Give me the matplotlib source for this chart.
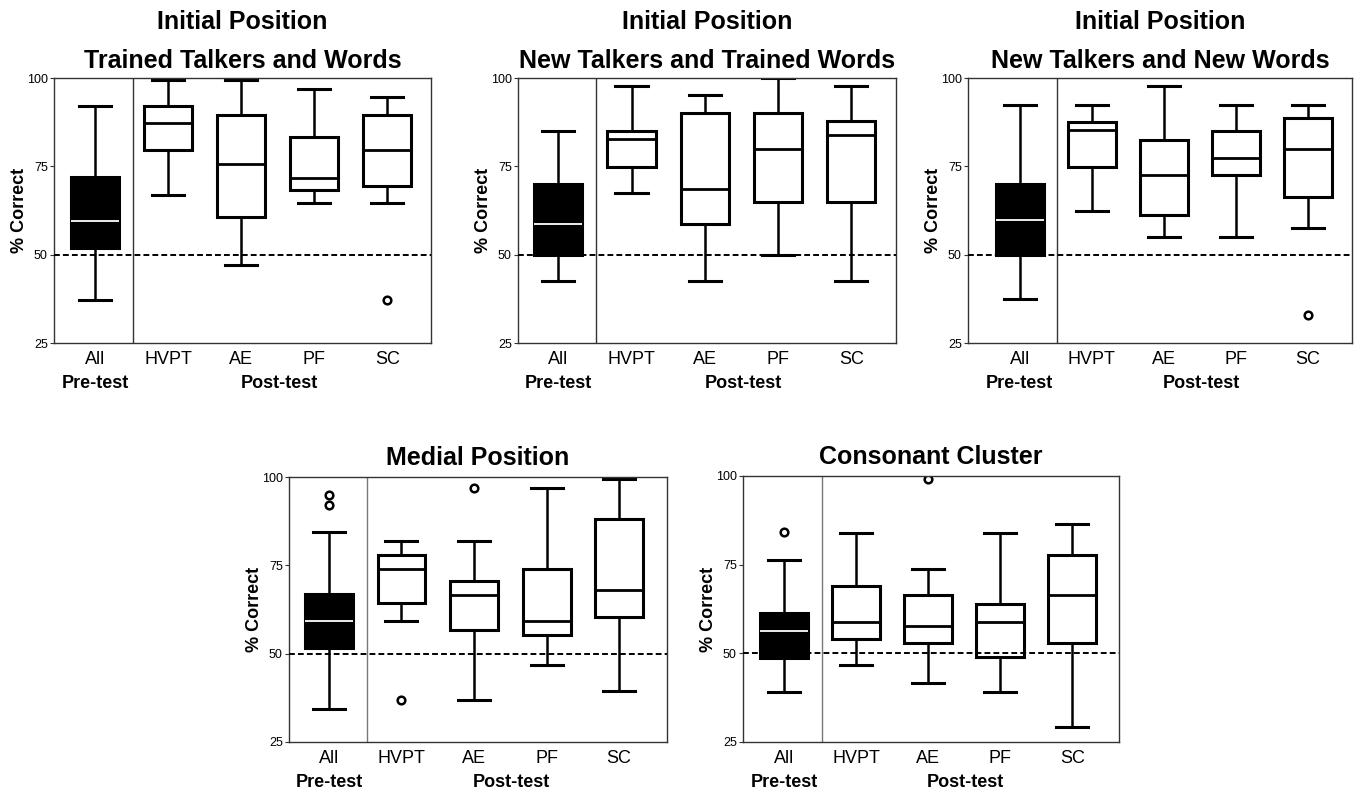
import matplotlib
matplotlib.use("Agg")
import matplotlib.pyplot as plt

plt.rcParams['font.family'] = ['Liberation Sans', 'DejaVu Sans']

groups = ["All", "HVPT", "AE", "PF", "SC"]

titles = ["Initial Position\nTrained Talkers and Words",
          "Initial Position\nNew Talkers and Trained Words",
          "Initial Position\nNew Talkers and New Words",
          "Medial Position",
          "Consonant Cluster"]

# each row: low whisker, Q1, median, Q3, high whisker (All, HVPT, AE, PF, SC)
trained_talkers_words = [[37.3, 52.0, 59.4, 72.0, 92.1],
                         [66.9, 79.5, 87.3, 92.1, 99.3],
                         [47.2, 60.7, 75.6, 89.5, 99.3],
                         [64.5, 68.2, 71.8, 83.3, 96.9],
                         [64.5, 69.4, 79.5, 89.5, 94.5]]
new_talkers_trained_words = [[42.6, 50.0, 58.7, 70.1, 85.1],
                             [67.5, 74.9, 82.8, 85.1, 97.6],
                             [42.6, 58.7, 68.7, 90.2, 95.1],
                             [50.0, 65.0, 80.0, 90.2, 100.0],
                             [42.6, 65.0, 84.0, 87.7, 97.6]]
new_talkers_new_words = [[37.5, 50.0, 59.8, 70.0, 92.5],
                         [62.3, 74.9, 85.2, 87.6, 92.5],
                         [54.9, 61.2, 72.5, 82.5, 97.6],
                         [54.9, 72.5, 77.4, 85.1, 92.5],
                         [57.5, 66.3, 80.0, 88.7, 92.5]]
medial = [[34.3, 51.6, 59.2, 66.9, 84.4],
          [59.2, 64.3, 74.1, 77.8, 81.8],
          [36.8, 56.7, 66.7, 70.5, 81.8],
          [46.8, 55.4, 59.2, 74.1, 96.9],
          [39.4, 60.5, 67.9, 88.1, 99.3]]
cluster = [[39.0, 48.8, 56.4, 61.4, 76.3],
           [46.6, 54.0, 58.9, 68.9, 84.0],
           [41.5, 52.8, 57.6, 66.5, 73.8],
           [39.0, 48.9, 58.9, 63.9, 84.0],
           [29.2, 52.8, 66.5, 77.6, 86.5]]

# outliers per group
fliers_ttw = [[], [], [], [], [37.3]]
fliers_ntw = [[], [], [], [], []]
fliers_ntnw = [[], [], [], [], [32.9]]
fliers_medial = [[94.8, 92.2], [37.0], [96.9], [], []]
fliers_cluster = [[84.1], [], [99.1], [], []]

panels = [trained_talkers_words, new_talkers_trained_words, new_talkers_new_words, medial, cluster]
fliers = [fliers_ttw, fliers_ntw, fliers_ntnw, fliers_medial, fliers_cluster]

W, H = 1358, 791
fig = plt.figure(figsize=(W / 100, H / 100), dpi=100)

# axes boxes in pixels: left, right, top, bottom
boxes_px = [(54, 431, 78, 343), (518, 896, 78, 343), (968, 1352, 78, 343),
            (289, 667, 477, 742), (743, 1119, 476, 742)]
xlims = [(0.44, 5.60), (0.45, 5.61), (0.28, 5.61), (0.45, 5.66), (0.43, 5.65)]
divider_color = ['#333333', '#333333', '#333333', '#777777', '#777777']

for i, (summ, fl) in enumerate(zip(panels, fliers)):
    l, r, t, b = boxes_px[i]
    ax = fig.add_axes([l / W, 1 - b / H, (r - l) / W, (b - t) / H])

    stats = []
    for g, s, f in zip(groups, summ, fl):
        stats.append(dict(label=g, whislo=s[0], q1=s[1], med=s[2], q3=s[3], whishi=s[4], fliers=f))

    art = ax.bxp(stats, positions=range(1, 6), widths=0.66, capwidths=0.44,
                 patch_artist=True, showfliers=True,
                 boxprops=dict(facecolor='white', edgecolor='black', linewidth=2.2),
                 whiskerprops=dict(color='black', linewidth=1.8),
                 capprops=dict(color='black', linewidth=2.2),
                 medianprops=dict(color='black', linewidth=2.0),
                 flierprops=dict(marker='o', markerfacecolor='white', markeredgecolor='black',
                                 markersize=5.5, markeredgewidth=1.8))
    art['boxes'][0].set_facecolor('black')
    art['medians'][0].set_color('white')
    art['medians'][0].set_linewidth(1.3)

    ax.axhline(50, color='black', lw=1.4, dashes=(3.0, 1.6), zorder=3)
    ax.axvline(1.52, color=divider_color[i], lw=1.0)

    ax.set_xlim(*xlims[i])
    ax.set_ylim(25, 100)
    ax.set_yticks([25, 50, 75, 100])
    ax.tick_params(axis='y', labelsize=9, length=3, width=0.8, pad=1.5, color='#333333')
    ax.tick_params(axis='x', labelsize=13, length=0, pad=6)
    for sp in ax.spines.values():
        sp.set_color('#333333')
        sp.set_linewidth(1.0)

    ax.set_ylabel("% Correct", fontsize=13, fontweight='bold', labelpad=-1)
    if i < 3:
        ax.set_title(titles[i], fontsize=18, fontweight='bold', linespacing=1.8, pad=7)
    else:
        ax.set_title(titles[i], fontsize=18, fontweight='bold', pad=9)

    ax.text(1, -0.153, "Pre-test", transform=ax.get_xaxis_transform(),
            ha='center', va='center', fontsize=13, fontweight='bold')
    ax.text(3.52, -0.153, "Post-test", transform=ax.get_xaxis_transform(),
            ha='center', va='center', fontsize=13, fontweight='bold')

fig.savefig("out.png", dpi=100)
